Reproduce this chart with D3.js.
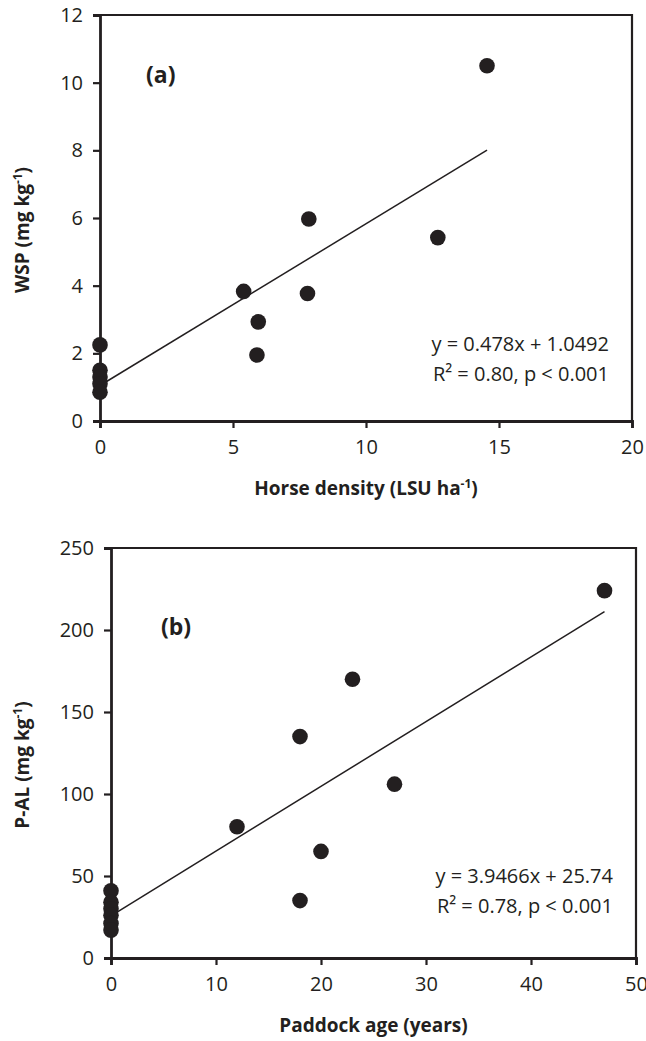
<!DOCTYPE html>
<html>
<head>
<meta charset="utf-8">
<script src="https://cdn.jsdelivr.net/npm/d3@7"></script>
<style>
  body { margin: 0; background: #fff; }
  text { font-family: "Open Sans", sans-serif; fill: #231f20; }
</style>
</head>
<body>
<svg id="chart" width="646" height="1041"></svg>
<script>
// panel (a) data
const densityX = [14.55, 7.85, 12.7, 5.4, 7.8, 5.95, 5.9, 0, 0, 0, 0, 0];
const wspY = [10.5, 5.97, 5.42, 3.83, 3.77, 2.93, 1.95, 2.25, 1.5, 1.3, 1.1, 0.85];
const fitA = [0.478, 1.0492]; // slope, intercept
const ticksAx = [0, 5, 10, 15, 20];
const ticksAy = [0, 2, 4, 6, 8, 10, 12];

// panel (b) data
const ageX = [47, 23, 18, 27, 12, 20, 18, 0, 0, 0, 0, 0, 0];
const palY = [224, 170, 135, 106, 80, 65, 35, 41, 34, 30, 26, 21, 17];
const fitB = [3.9466, 25.74];
const ticksBx = [0, 10, 20, 30, 40, 50];
const ticksBy = [0, 50, 100, 150, 200, 250];

const svg = d3.select('#chart');
const ink = '#231f20';

function drawPanel(opt) {
  const x = d3.scaleLinear().domain(opt.xDomain).range([opt.left, opt.right]);
  const y = d3.scaleLinear().domain(opt.yDomain).range([opt.bottom, opt.top]);
  const g = svg.append('g');

  // box: top and right borders
  g.append('path')
    .attr('d', `M${opt.left},${opt.top}H${opt.right}V${opt.bottom}`)
    .attr('fill', 'none').attr('stroke', ink).attr('stroke-width', 2.2);

  const xAxis = g.append('g')
    .attr('transform', `translate(0,${opt.bottom})`)
    .call(d3.axisBottom(x).tickValues(opt.xTicks).tickSize(7).tickPadding(12));
  const yAxis = g.append('g')
    .attr('transform', `translate(${opt.left},0)`)
    .call(d3.axisLeft(y).tickValues(opt.yTicks).tickSize(7).tickPadding(10));
  [xAxis, yAxis].forEach(a => {
    a.select('.domain').attr('stroke', ink).attr('stroke-width', 2.8);
    a.selectAll('.tick line').attr('stroke', ink).attr('stroke-width', 2.2);
    a.selectAll('.tick text').style('font-size', '20px').attr('fill', ink);
  });

  // regression line
  const xMax = d3.max(opt.xs);
  g.append('line')
    .attr('x1', x(0)).attr('y1', y(opt.fit[1]))
    .attr('x2', x(xMax)).attr('y2', y(opt.fit[0] * xMax + opt.fit[1]))
    .attr('stroke', ink).attr('stroke-width', 1.5);

  g.selectAll('circle.pt')
    .data(opt.xs.map((v, i) => [v, opt.ys[i]]))
    .enter().append('circle')
    .attr('class', 'pt')
    .attr('cx', d => x(d[0])).attr('cy', d => y(d[1]))
    .attr('r', 7.8).attr('fill', ink);

  g.append('text')
    .attr('x', opt.label[0]).attr('y', opt.label[1])
    .style('font-size', '23px').style('font-weight', 'bold')
    .text(opt.labelText);

  const eq = g.append('text')
    .attr('text-anchor', 'end').style('font-size', '20px');
  eq.append('tspan').attr('x', opt.eqX).attr('y', opt.eqY).text(opt.eq1);
  eq.append('tspan').attr('x', opt.eqX).attr('y', opt.eqY + 30)
    .text('R² = ' + opt.r2 + ', p < 0.001');

  const xt = g.append('text')
    .attr('x', (opt.left + opt.right) / 2).attr('y', opt.bottom + 74)
    .attr('text-anchor', 'middle').style('font-size', '19px').style('font-weight', 'bold');
  xt.append('tspan').text(opt.xTitle[0]);
  xt.append('tspan').attr('dy', -7).style('font-size', '12px').text(opt.xTitle[1]);
  xt.append('tspan').attr('dy', 7).text(opt.xTitle[2]);

  const yt = g.append('text')
    .attr('transform', `translate(29,${(opt.top + opt.bottom) / 2 + 12}) rotate(-90)`)
    .attr('text-anchor', 'middle').style('font-size', '19px').style('font-weight', 'bold');
  yt.append('tspan').text(opt.yTitle[0]);
  yt.append('tspan').attr('dy', -7).style('font-size', '12px').text(opt.yTitle[1]);
  yt.append('tspan').attr('dy', 7).text(opt.yTitle[2]);
}

drawPanel({
  xs: densityX, ys: wspY, fit: fitA,
  xDomain: [0, 20], yDomain: [0, 12], xTicks: ticksAx, yTicks: ticksAy,
  left: 100, right: 632, top: 15, bottom: 421,
  label: [146, 83], labelText: '(a)',
  eqX: 609, eqY: 351, eq1: 'y = 0.478x + 1.0492', r2: '0.80',
  xTitle: ['Horse density (LSU ha', '-1', ')'],
  yTitle: ['WSP (mg kg', '-1', ')']
});

drawPanel({
  xs: ageX, ys: palY, fit: fitB,
  xDomain: [0, 50], yDomain: [0, 250], xTicks: ticksBx, yTicks: ticksBy,
  left: 111, right: 636, top: 548, bottom: 958,
  label: [161, 635], labelText: '(b)',
  eqX: 613, eqY: 883, eq1: 'y = 3.9466x + 25.74', r2: '0.78',
  xTitle: ['Paddock age (years)', '', ''],
  yTitle: ['P-AL (mg kg', '-1', ')']
});
</script>
</body>
</html>
